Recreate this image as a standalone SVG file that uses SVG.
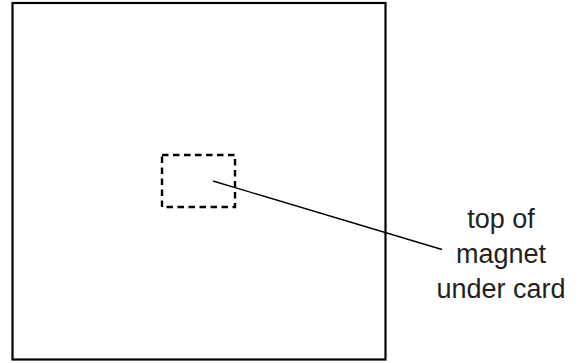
<svg xmlns="http://www.w3.org/2000/svg" width="582" height="363" viewBox="0 0 582 363">
<style>
.card{fill:none;stroke:#000;stroke-width:2.2}
.mag{fill:none;stroke:#000;stroke-width:2.4;stroke-dasharray:6.5 4.5}
.lead{fill:none;stroke:#000;stroke-width:1.4}
.lbl{font-family:"Liberation Sans",Arial,sans-serif;font-size:27px;fill:#231f20;text-anchor:middle}
</style>
<rect width="582" height="363" fill="#fff"/>
<g id="card"><rect class="card" x="12.5" y="3" width="373" height="356.5"/></g>
<g id="magnet"><rect class="mag" x="162" y="155" width="73" height="52"/></g>
<g id="label"><text class="lbl" x="501" y="228">top of</text><text class="lbl" x="501" y="263">magnet</text><text class="lbl" x="501" y="298">under card</text></g>
<g id="connectors"><line class="lead" x1="213" y1="181" x2="442" y2="249.5"/></g>
</svg>
